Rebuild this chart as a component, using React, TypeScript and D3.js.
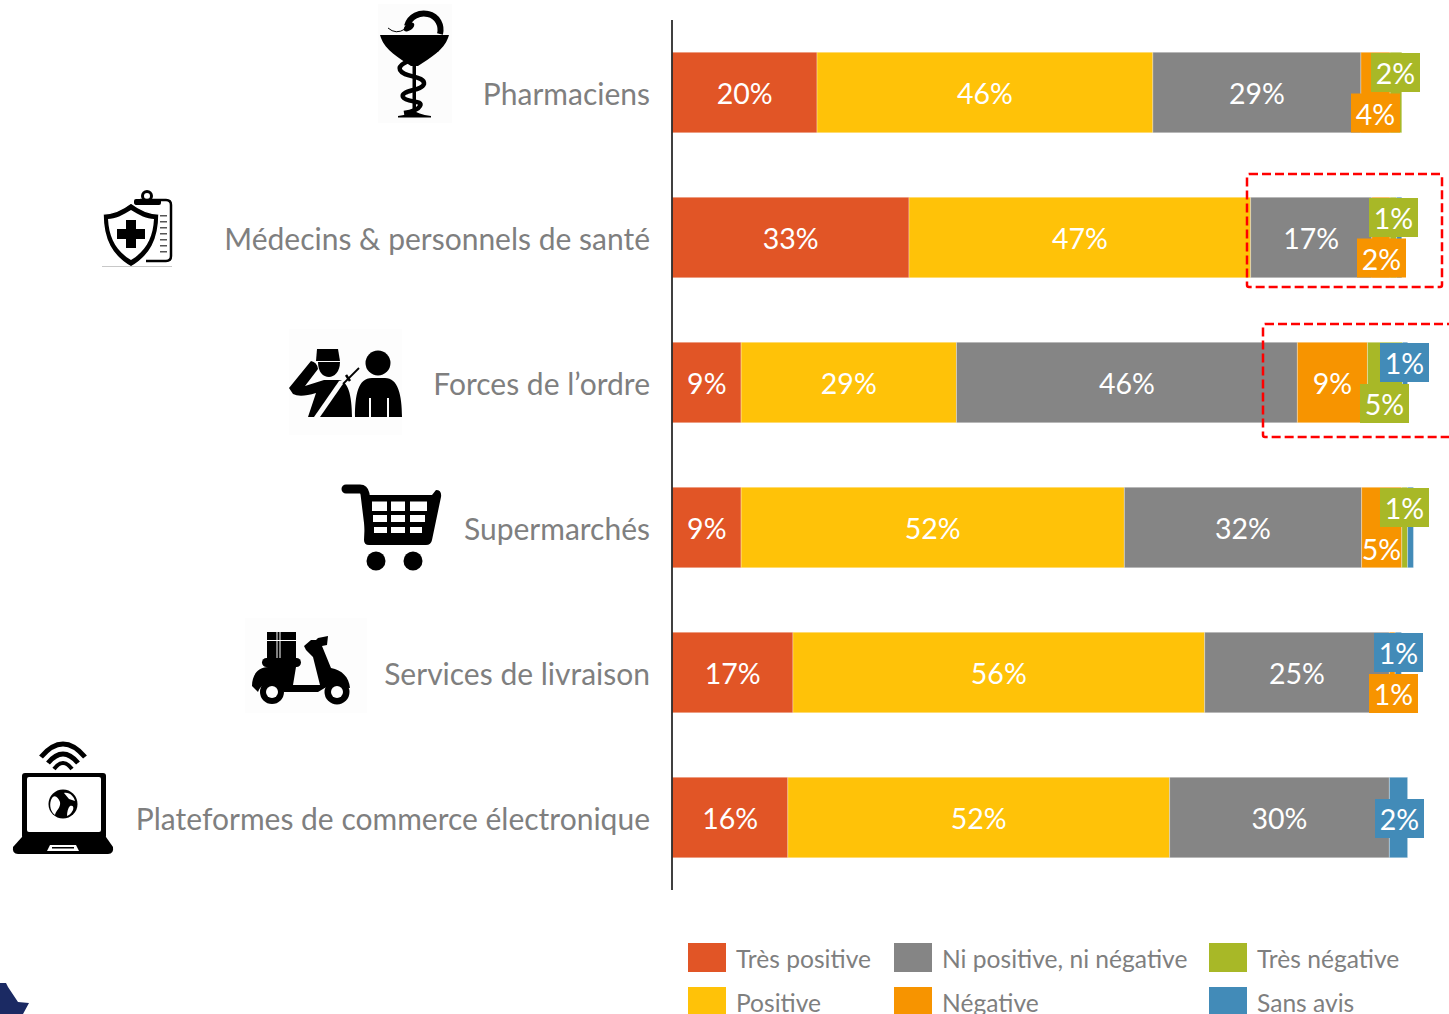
import React from "react";
import * as d3 from "d3";

const categories = [
  "Pharmaciens",
  "Médecins & personnels de santé",
  "Forces de l’ordre",
  "Supermarchés",
  "Services de livraison",
  "Plateformes de commerce électronique",
];
const seriesNames = ["Très positive", "Positive", "Ni positive, ni négative", "Négative", "Très négative", "Sans avis"];

const tresPositive = [19.8, 32.4, 9.4, 9.4, 16.5, 15.8];
const positive = [46, 46.8, 29.5, 52.5, 56.4, 52.3];
const neutre = [28.5, 16.6, 46.7, 32.5, 25.3, 30.1];
const negative = [4, 2.5, 9.6, 5.5, 0.8, 0];
const tresNegative = [1.6, 0.9, 4.8, 0.8, 0, 0];
const sansAvis = [0, 0.7, 0.7, 0.8, 0.85, 2.5];
const seriesValues = [tresPositive, positive, neutre, negative, tresNegative, sansAvis];

const labelsTresPositive = ["20%", "33%", "9%", "9%", "17%", "16%"];
const labelsPositive = ["46%", "47%", "29%", "52%", "56%", "52%"];
const labelsNeutre = ["29%", "17%", "46%", "32%", "25%", "30%"];
const labelsNegative = ["4%", "2%", "9%", "5%", "1%", ""];
const labelsTresNegative = ["2%", "1%", "5%", "1%", "", ""];
const labelsSansAvis = ["", "", "1%", "", "1%", "2%"];
const seriesLabels = [labelsTresPositive, labelsPositive, labelsNeutre, labelsNegative, labelsTresNegative, labelsSansAvis];

const colors = ["#E15526", "#FFC208", "#858585", "#F79400", "#A8B827", "#428BB8"];

// Layout only: data labels that were dragged out of their segment (box centre in px)
const movedLabels: Record<string, [number, number]> = {
  "0-4": [1395.5, 72.5],
  "0-3": [1375.5, 113],
  "1-4": [1393.5, 217.5],
  "1-3": [1381.5, 258],
  "2-5": [1404.5, 362.5],
  "2-4": [1384.5, 403.5],
  "3-4": [1404.5, 507.5],
  "4-5": [1398.5, 652.5],
  "4-3": [1393.5, 693.5],
  "5-5": [1399.5, 818.5],
};
const unboxedMovedLabels: Record<string, [number, number]> = {
  "3-3": [1381.5, 548.5],
};

const GRAY = "#7F7F7F";
const FONT = "Lato, 'Open Sans', sans-serif";
const x = d3.scaleLinear().domain([0, 100]).range([672.5, 1402.5]);
const y = d3.scaleBand<number>().domain(d3.range(6)).range([20, 890]).paddingInner(0.445).paddingOuter(0.2225);

const stackGen = d3.stack<number>().keys(d3.range(6) as any).value((i, k) => seriesValues[k as any][i]);
const stacked = stackGen(d3.range(6));

const legendCols = [688, 894, 1209];
const legendRows = [943, 987];

function Icons() {
  return (
    <g fill="#000">
      {/* Pharmacy */}
      <rect x={378} y={4} width={74} height={119} fill="#FCFCFC" />
      <path d="M380 35 H449 L448 38 C444 50 430 58 418 66 L411 66 C399 58 385 50 381 38 Z" />
      <path d="M407 26 C410 16 420 12 428 14 C438 16 442 26 440 34" fill="none" stroke="#000" strokeWidth={6} />
      <ellipse cx={409} cy={27} rx={6} ry={3.5} transform="rotate(-35 409 27)" />
      <path d="M405 29 Q396 35 388 28" fill="none" stroke="#000" strokeWidth={1} />
      <rect x={412.5} y={60} width={3.5} height={56} />
      <path d="M398 116 Q411 114 414 110 Q417 114 431 116 V117.5 H398 Z" />
      <path d="M438 49 C425 56 396 62 400 70 C404 78 425 75 424 84 C422 91 400 90 403 97 C406 103 424 100 420 106 C418 110 410 112 404 113" fill="none" stroke="#000" strokeWidth={4.5} />

      {/* Shield + clipboard */}
      <path d="M140 200 H166 Q171 200 171 205 V256 Q171 261 166 261 H146" fill="none" stroke="#000" strokeWidth={2.5} />
      <circle cx={147} cy={196} r={4.5} fill="none" stroke="#000" strokeWidth={3} />
      <rect x={134} y={199} width={27} height={6} rx={2} />
      {[215, 221, 227, 233, 239, 245, 251].map((ly) => (
        <rect key={ly} x={160} y={ly} width={7} height={1.5} fill="#555" />
      ))}
      <path d="M131 203 C122 210 112 214 103 214 C103 240 112 256 131 267 C150 256 159 240 159 214 C150 214 140 210 131 203 Z" stroke="#fff" strokeWidth={1.5} />
      <path d="M131 210 C123 215 115 219 108 219 C109 238 116 251 131 260 C146 251 153 238 154 219 C147 219 139 215 131 210 Z" fill="#fff" />
      <path d="M126 220 H136 V229 H145 V239 H136 V248 H126 V239 H117 V229 H126 Z" />
      <rect x={102} y={266} width={70} height={0.8} fill="#bbb" />

      {/* Police + citizen */}
      <rect x={289} y={329} width={113} height={106} fill="#FDFDFD" />
      <circle cx={378} cy={363} r={12.5} />
      <path d="M355 417 C355 395 358 378 372 378 H385 C398 378 402 395 402 417 H389 V398 H387 V417 H371 V398 H369 V417 Z" />
      <path d="M317 349 H338 L340 361 H316 Z" />
      <path d="M318 362 H340 C340 372 334 377 329 377 C323 377 318 372 318 362 Z" />
      <path d="M289 388 L311 361 Q317 362 318 369 L305 386 L324 380 H338 C348 380 352 395 352 417 H308 L316 393 Q300 398 293 394 Z" />
      <path d="M339 381 L345 381 L320 417 L314 417 Z" fill="#fdfdfd" />
      <path d="M343 384 L359 368" stroke="#000" strokeWidth={1.8} fill="none" />
      <path d="M346 375 L350 381" stroke="#000" strokeWidth={2.5} fill="none" />

      {/* Cart */}
      <path d="M346 489 H360 Q364 489 365 494 L370 535" fill="none" stroke="#000" strokeWidth={9} strokeLinecap="round" />
      <path d="M366 495 H432 L436 490 Q442 490 441 497 L432 540 Q431 545 426 545 H369 Q364 545 364 540 Z" />
      {[[372, 387, 501.5, 511], [391, 405, 501.5, 511], [410, 427, 501.5, 511], [373, 387, 515, 522], [391, 405, 515, 522], [410, 425, 515, 522], [374, 387, 527, 533], [391, 405, 527, 533], [410, 422, 527, 533]].map(([a, b, c, e], i) => (
        <rect key={i} x={a} y={c} width={b - a} height={e - c} fill="#fff" />
      ))}
      <circle cx={376} cy={561} r={9.5} />
      <circle cx={413} cy={561} r={9.5} />

      {/* Scooter */}
      <rect x={245} y={618} width={122} height={95} fill="#FDFDFD" />
      <rect x={267} y={632} width={29} height={26} />
      <rect x={276.5} y={632} width={1} height={26} fill="#fff" />
      <rect x={279.5} y={632} width={1} height={26} fill="#fff" />
      <rect x={267} y={640} width={29} height={1} fill="#fff" />
      <rect x={262} y={658} width={39} height={9} rx={4.5} />
      <path d="M252 686 C252 675 258 667 268 667 H296 L293 685 H320 L313 657 L306 650 L304 646 L311 640 L316 640 L318 638 L328 636 L327 645 L322 646 L331 668 C342 670 349 677 350 688 L328 686 L318 692 H284 C280 680 262 680 258 692 Z" />
      <circle cx={272} cy={692} r={12} />
      <circle cx={272} cy={692} r={6} fill="#fff" />
      <circle cx={337} cy={692} r={12.5} />
      <circle cx={337} cy={692} r={6} fill="#fff" />

      {/* Laptop */}
      <path d="M41 757 Q63 731 85 757" fill="none" stroke="#000" strokeWidth={5} />
      <path d="M48 763 Q63 745 78 763" fill="none" stroke="#000" strokeWidth={5} />
      <path d="M54 769 Q63 757 72 769" fill="none" stroke="#000" strokeWidth={4} />
      <rect x={22} y={773} width={84} height={66} rx={3} />
      <rect x={27} y={777} width={74} height={55} rx={2} fill="#fff" />
      <path d="M22 837 H106 L113 847 Q114 854 108 854 H18 Q12 854 13 847 Z" />
      <path d="M47 851 L50 845 H76 L79 851 Z" fill="#fff" />
      <rect x={52} y={847} width={22} height={1.5} />
      <circle cx={63} cy={804} r={14.5} />
      <path d="M51 800 C54 793 58 797 60 802 C61 808 56 810 55 815 C51 812 49 806 51 800 Z M64 793 C70 792 74 797 75 801 L69 799 Z M70 806 C73 805 74 807 73 810 C71 814 69 815 67 816 C67 812 68 808 70 806 Z" fill="#fff" />

      {/* Corner fragment */}
      <path d="M0 983 H6 L8 987 L18 1002 L29 1003 L23 1014 H0 Z" fill="#1B2A63" />
    </g>
  );
}

export default function App() {
  return (
    <svg width={1449} height={1014} style={{ position: "absolute", left: 0, top: 0, display: "block" }} fontFamily={FONT}>
      <rect width={1449} height={1014} fill="#fff" />
      <Icons />
      {categories.map((c, i) => (
        <text key={c} x={650} y={y(i)! + y.bandwidth() / 2} textAnchor="end" dominantBaseline="central" fontSize={30} fill={GRAY}>{c}</text>
      ))}
      {stacked.map((s, si) => s.map((d, i) => {
        const w = x(d[1]) - x(d[0]);
        if (w <= 0) return null;
        return <rect key={`${si}-${i}`} x={x(d[0])} y={y(i)!} width={w} height={y.bandwidth()} fill={colors[si]} stroke="#fff" strokeOpacity={0.3} strokeWidth={1} />;
      }))}
      <line x1={672} x2={672} y1={20} y2={890} stroke="#000" strokeWidth={1.5} />
      {stacked.map((s, si) => s.map((d, i) => {
        const label = seriesLabels[si][i];
        if (!label) return null;
        const key = `${i}-${si}`;
        const moved = movedLabels[key];
        const pos = moved || unboxedMovedLabels[key];
        const cx = pos ? pos[0] : (x(d[0]) + x(d[1])) / 2;
        const cy = pos ? pos[1] : y(i)! + y.bandwidth() / 2;
        return (
          <g key={`l${si}-${i}`}>
            {moved && <rect x={cx - 24.5} y={cy - 19.5} width={49} height={39} fill={colors[si]} />}
            <text x={cx} y={cy + 0.5} textAnchor="middle" dominantBaseline="central" fontSize={28.5} fill="#fff">{label}</text>
          </g>
        );
      }))}
      <rect x={1247} y={174} width={195} height={113} rx={2} fill="none" stroke="#FF0000" strokeWidth={2.5} strokeDasharray="9 4" />
      <rect x={1263} y={324} width={195} height={113} rx={2} fill="none" stroke="#FF0000" strokeWidth={2.5} strokeDasharray="9 4" />
      {seriesNames.map((n, i) => {
        const cx = legendCols[Math.floor(i / 2)];
        const cy = legendRows[i % 2];
        return (
          <g key={n}>
            <rect x={cx} y={cy} width={38} height={29} fill={colors[i]} />
            <text x={cx + 48} y={cy + 15.5} dominantBaseline="central" fontSize={24.6} fill={GRAY}>{n}</text>
          </g>
        );
      })}
    </svg>
  );
}
